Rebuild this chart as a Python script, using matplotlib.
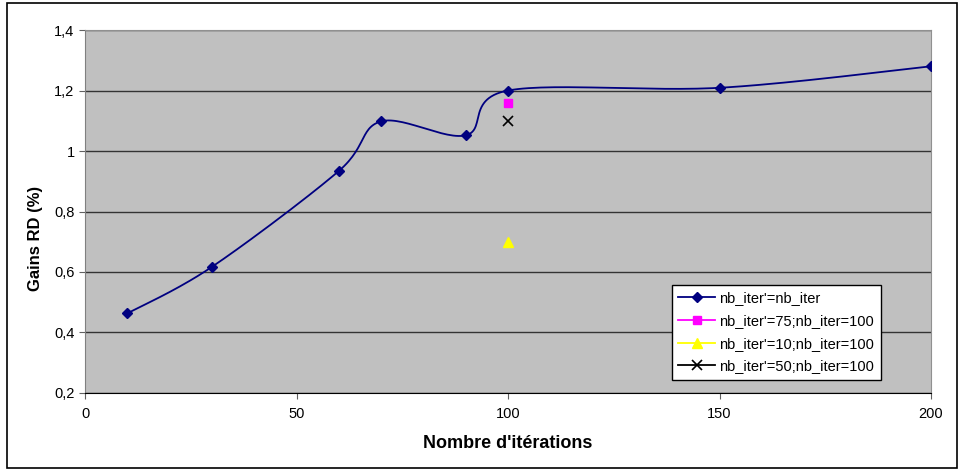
import matplotlib.pyplot as plt
import matplotlib.ticker as mticker
import numpy as np

plt.rcParams['font.family'] = ['Liberation Sans', 'DejaVu Sans']

# data
iters = [10, 30, 60, 70, 90, 100, 150, 200]
gains = [0.463, 0.617, 0.934, 1.098, 1.052, 1.20, 1.209, 1.28]

x_single = [100]
gain_75 = [1.16]
gain_10 = [0.70]
gain_50 = [1.10]


def smooth(xs, ys, n=30):
    # excel-like smoothed line (catmull-rom bezier)
    px = [xs[0]] + list(xs) + [xs[-1]]
    py = [ys[0]] + list(ys) + [ys[-1]]
    outx, outy = [], []
    t = np.linspace(0, 1, n)
    for i in range(1, len(px) - 2):
        p0 = np.array([px[i], py[i]])
        p3 = np.array([px[i + 1], py[i + 1]])
        p1 = p0 + (np.array([px[i + 1], py[i + 1]]) - np.array([px[i - 1], py[i - 1]])) / 6
        p2 = p3 - (np.array([px[i + 2], py[i + 2]]) - np.array([px[i], py[i]])) / 6
        b = ((1 - t) ** 3)[:, None] * p0 + (3 * (1 - t) ** 2 * t)[:, None] * p1 \
            + (3 * (1 - t) * t ** 2)[:, None] * p2 + (t ** 3)[:, None] * p3
        outx.extend(b[:, 0])
        outy.extend(b[:, 1])
    return outx, outy


fig = plt.figure(figsize=(9.62, 4.72), dpi=100)
ax = fig.add_axes([0.0884, 0.1674, 0.8794, 0.769])
ax.set_facecolor('#C0C0C0')

# outer frame
fig.patches.append(plt.Rectangle((0.007, 0.008), 0.988, 0.986, transform=fig.transFigure,
                                 fill=False, edgecolor='black', linewidth=1.2))

navy = '#000080'
sx, sy = smooth(iters, gains)
ax.plot(sx, sy, color=navy, linewidth=1.3, zorder=3)
ax.plot(iters, gains, 'D', color=navy, markersize=5, zorder=4)
# proxy for legend
ax.plot([], [], '-D', color=navy, markersize=5, linewidth=1.3, label="nb_iter'=nb_iter")
ax.plot(x_single, gain_75, '-s', color='#FF00FF', markersize=6, linewidth=1.3,
        label="nb_iter'=75;nb_iter=100")
ax.plot(x_single, gain_10, '-^', color='#FFFF00', markersize=7, linewidth=1.3,
        label="nb_iter'=10;nb_iter=100")
ax.plot(x_single, gain_50, '-x', color='black', markersize=7, mew=1.2, linewidth=1.3,
        label="nb_iter'=50;nb_iter=100")

ax.set_xlim(0, 200)
ax.set_ylim(0.2, 1.4)
ax.set_xticks([0, 50, 100, 150, 200])
ax.set_yticks([0.2, 0.4, 0.6, 0.8, 1.0, 1.2, 1.4])
ax.yaxis.set_major_formatter(mticker.FuncFormatter(lambda v, p: ('%g' % round(v, 1)).replace('.', ',')))
ax.grid(axis='y', color='#333333', linewidth=1)
ax.set_axisbelow(True)

for s in ['top', 'right']:
    ax.spines[s].set_color('#909090')
ax.spines['left'].set_color('#808080')
ax.spines['bottom'].set_color('black')
ax.tick_params(axis='both', direction='out', length=4, labelsize=10.5, color='#606060')
ax.tick_params(axis='x', pad=6)

ax.set_xlabel("Nombre d'itérations", fontsize=13, fontweight='bold', labelpad=10)
ax.set_ylabel('Gains RD (%)', fontsize=12, fontweight='bold')
ax.yaxis.set_label_coords(-0.05, 0.427)

leg = ax.legend(loc='lower left', bbox_to_anchor=(0.6935, 0.036), fontsize=10.5,
                fancybox=False, framealpha=1, edgecolor='black', handlelength=2.5,
                handletextpad=0.3, borderpad=0.45, labelspacing=0.6, borderaxespad=0)
leg.get_frame().set_linewidth(1)

fig.savefig('out.png', dpi=100)
